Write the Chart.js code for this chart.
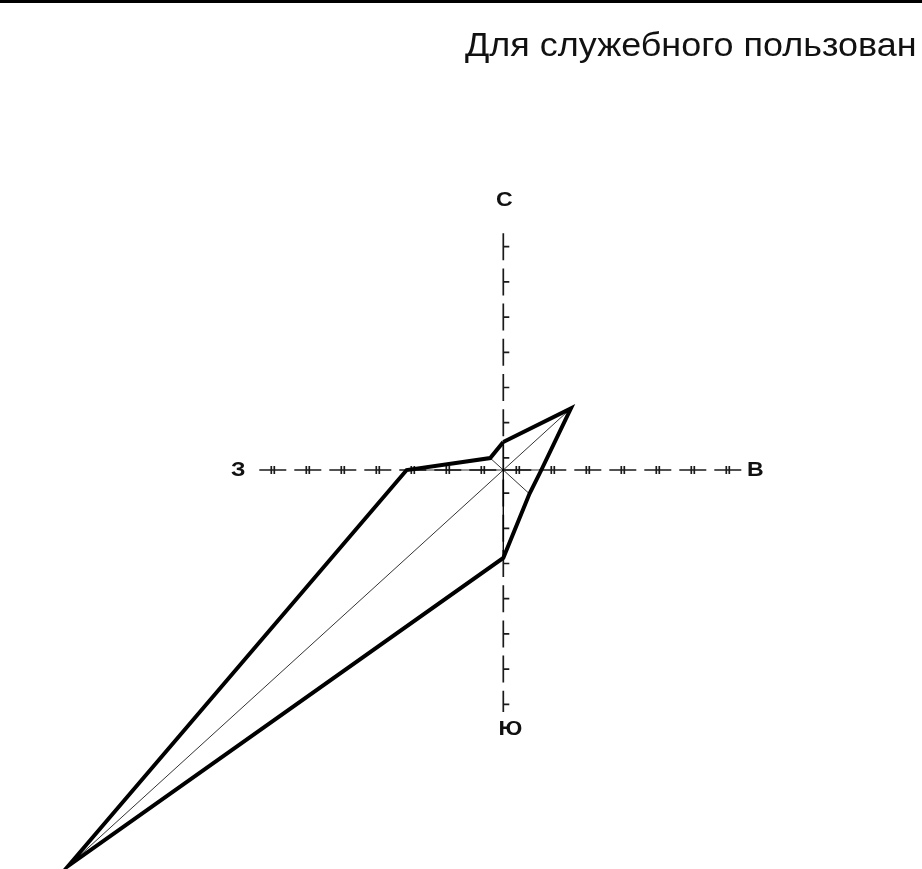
<!DOCTYPE html>
<html>
<head>
<meta charset="utf-8">
<title>Роза ветров</title>
<script src="https://cdn.jsdelivr.net/npm/chart.js@4.4.1/dist/chart.umd.min.js"></script>
<style>
  html, body { margin: 0; padding: 0; background: #fff; }
  #wrap { width: 922px; height: 869px; position: relative; }
</style>
</head>
<body>
<div id="wrap"><canvas id="rose" width="922" height="869"></canvas></div>
<script>
// повторяемость направлений ветра, %
var directions = ['С', 'СВ', 'В', 'ЮВ', 'Ю', 'ЮЗ', 'З', 'СЗ'];
var angles = [0, 45, 90, 135, 180, 225, 270, 315];
var frequency = [3.0, 9.3, 3.7, 3.6, 9.4, 59.8, 9.4, 1.8];
var axisLabels = ['С', 'В', 'Ю', 'З'];
var title = 'Для служебного пользован';

// перевод направление/значение -> x,y
function toXY(value, deg) {
  var a = deg * Math.PI / 180;
  return { x: value * Math.sin(a), y: value * Math.cos(a) };
}

var polygon = [];
for (var i = 0; i < frequency.length; i++) {
  polygon.push(toXY(frequency[i], angles[i]));
}
polygon.push(toXY(frequency[0], angles[0]));

var spokes = [];
for (var j = 0; j < frequency.length; j++) {
  spokes.push({ x: 0, y: 0 });
  spokes.push(toXY(frequency[j], angles[j]));
  spokes.push({ x: null, y: null });
}

// масштаб: пикселей на 1 %
var kx = 10.28;
var ky = kx * 0.91;
var cx = 503.3, cy = 470;
var W = 922, H = 869;

// текст чуть растянут по горизонтали, как в исходнике
function wideText(ctx, txt, x, y) {
  ctx.save();
  ctx.translate(x, y);
  ctx.scale(1.1, 1);
  ctx.fillText(txt, 0, 0);
  ctx.restore();
}

var decor = {
  id: 'decor',
  beforeDraw: function(chart) {
    var ctx = chart.ctx;
    ctx.save();
    ctx.fillStyle = '#fff';
    ctx.fillRect(0, 0, chart.width, chart.height);
    ctx.fillStyle = '#000';
    ctx.fillRect(0, 0, chart.width, 3);
    ctx.fillStyle = '#111';
    ctx.font = '32.7px "Liberation Sans", Arial, sans-serif';
    ctx.textBaseline = 'alphabetic';
    wideText(ctx, title, 465, 56);
    ctx.restore();
  },
  beforeDatasetsDraw: function(chart) {
    var ctx = chart.ctx;
    var ox = chart.scales.x.getPixelForValue(0);
    var oy = chart.scales.y.getPixelForValue(0);
    ctx.save();
    ctx.strokeStyle = '#1a1a1a';
    ctx.lineWidth = 1.7;
    var k, t, a, b;
    // горизонтальная ось
    for (k = 0; k < 14; k++) {
      t = ox - 230.5 + k * 35;
      a = Math.max(t - 13.5, ox - 245);
      b = Math.min(t + 13.5, ox + 238);
      ctx.beginPath();
      ctx.moveTo(a, oy); ctx.lineTo(b, oy);
      ctx.moveTo(t - 1.5, oy - 4); ctx.lineTo(t - 1.5, oy + 4);
      ctx.moveTo(t + 1.5, oy - 4); ctx.lineTo(t + 1.5, oy + 4);
      ctx.stroke();
    }
    // вертикальная ось
    for (k = 0; k < 14; k++) {
      t = oy - 223.3 + k * 35.2;
      a = Math.max(t - 13.5, oy - 238.5);
      b = Math.min(t + 13.5, oy + 242);
      ctx.beginPath();
      ctx.moveTo(ox, a); ctx.lineTo(ox, b);
      ctx.moveTo(ox, t); ctx.lineTo(ox + 6, t);
      ctx.stroke();
    }
    ctx.fillStyle = '#111';
    ctx.font = 'bold 21px "Liberation Sans", Arial, sans-serif';
    ctx.textAlign = 'center';
    ctx.textBaseline = 'middle';
    wideText(ctx, axisLabels[0], ox + 1, oy - 270);
    wideText(ctx, axisLabels[1], ox + 252, oy);
    wideText(ctx, axisLabels[2], ox + 7, oy + 259);
    wideText(ctx, axisLabels[3], ox - 265, oy);
    ctx.restore();
  }
};

new Chart(document.getElementById('rose'), {
  type: 'scatter',
  data: {
    datasets: [
      {
        label: 'Повторяемость',
        data: polygon,
        showLine: true,
        borderColor: '#000',
        borderWidth: 4,
        pointRadius: 0,
        tension: 0,
        fill: false
      },
      {
        label: 'Лучи',
        data: spokes,
        showLine: true,
        spanGaps: false,
        borderColor: '#000',
        borderWidth: 0.8,
        pointRadius: 0,
        tension: 0
      }
    ]
  },
  options: {
    responsive: false,
    animation: false,
    layout: { padding: 0 },
    plugins: { legend: { display: false }, tooltip: { enabled: false } },
    scales: {
      x: { type: 'linear', display: false, min: -cx / kx, max: (W - cx) / kx },
      y: { type: 'linear', display: false, min: -(H - cy) / ky, max: cy / ky }
    }
  },
  plugins: [decor]
});
</script>
</body>
</html>
